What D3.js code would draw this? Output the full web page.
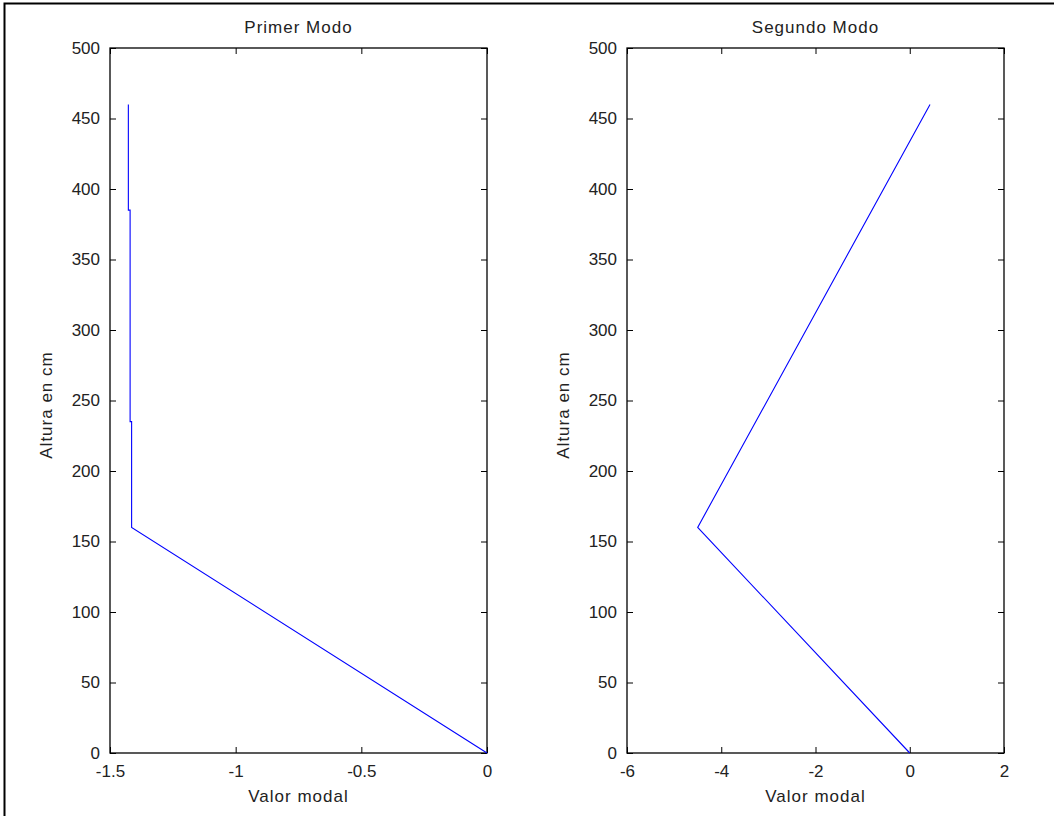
<!DOCTYPE html>
<html>
<head>
<meta charset="utf-8">
<script src="https://cdn.jsdelivr.net/npm/d3@7"></script>
<style>
  body { margin: 0; background: #fff; }
  svg text { font-family: "Liberation Sans", Arial, sans-serif; fill: #222; }
</style>
</head>
<body>
<div id="chart"></div>
<script>
// Alturas de los nodos (cm)
const alturas1 = [0, 160, 235, 235, 385, 385, 460];
// Primer modo
const modo1 = [0, -1.414, -1.414, -1.420, -1.420, -1.427, -1.427];
// Segundo modo
const alturas2 = [0, 160, 460];
const modo2 = [0, -4.50, 0.43];

const yTicks = [0, 50, 100, 150, 200, 250, 300, 350, 400, 450, 500];
const xTicks1 = [-1.5, -1, -0.5, 0];
const xTicks2 = [-6, -4, -2, 0, 2];

const width = 1054, height = 816;
const plotTop = 48, plotBottom = 753;
const tickLen = 6;

const svg = d3.select("#chart").append("svg")
  .attr("width", width)
  .attr("height", height);

// outer frame
svg.append("rect")
  .attr("x", 4.5).attr("y", 3.5)
  .attr("width", width + 10).attr("height", height + 10)
  .attr("fill", "none").attr("stroke", "#000").attr("stroke-width", 2);

const yScale = d3.scaleLinear().domain([0, 500]).range([plotBottom, plotTop]);
const fmt = d => String(d);  // guion normal, no signo menos unicode

function panel(left, right, xDomain, xTicks, xs, ys, title) {
  const xScale = d3.scaleLinear().domain(xDomain).range([left, right]);
  const g = svg.append("g");

  // ejes con marcas hacia dentro en los cuatro lados
  const xb = g.append("g")
    .attr("transform", `translate(0,${plotBottom})`)
    .call(d3.axisBottom(xScale).tickValues(xTicks).tickSize(-tickLen).tickFormat(fmt))
    .call(a => a.select(".domain").remove());
  xb.selectAll(".tick text").attr("y", 24).attr("dy", null);

  g.append("g")
    .attr("transform", `translate(0,${plotTop})`)
    .call(d3.axisTop(xScale).tickValues(xTicks).tickSize(-tickLen).tickFormat(""))
    .call(a => a.select(".domain").remove());
  g.append("g")
    .attr("transform", `translate(${left},0)`)
    .call(d3.axisLeft(yScale).tickValues(yTicks).tickSize(-tickLen).tickPadding(10).tickFormat(fmt))
    .call(a => a.select(".domain").remove());
  g.append("g")
    .attr("transform", `translate(${right},0)`)
    .call(d3.axisRight(yScale).tickValues(yTicks).tickSize(-tickLen).tickFormat(""))
    .call(a => a.select(".domain").remove());

  g.selectAll(".tick line").attr("stroke", "#000");
  g.selectAll(".tick text").attr("font-size", "17px").attr("fill", "#222")
    .attr("font-family", "Liberation Sans, Arial, sans-serif");

  g.append("rect")
    .attr("x", left).attr("y", plotTop)
    .attr("width", right - left).attr("height", plotBottom - plotTop)
    .attr("fill", "none").attr("stroke", "#000").attr("stroke-width", 1.3);

  const data = xs.map((v, i) => ({ x: v, y: ys[i] }));
  g.append("path")
    .datum(data)
    .attr("fill", "none")
    .attr("stroke", "#0000ff")
    .attr("stroke-width", 1.1)
    .attr("d", d3.line().x(d => xScale(d.x)).y(d => yScale(d.y)));

  g.append("text")
    .attr("x", (left + right) / 2).attr("y", 33)
    .attr("text-anchor", "middle").attr("font-size", "17px")
    .attr("letter-spacing", "1px")
    .text(title);
  g.append("text")
    .attr("x", (left + right) / 2).attr("y", 802)
    .attr("text-anchor", "middle").attr("font-size", "17px")
    .attr("letter-spacing", "1px")
    .text("Valor modal");
  g.append("text")
    .attr("transform", `translate(${left - 58},405) rotate(-90)`)
    .attr("text-anchor", "middle").attr("font-size", "17px")
    .attr("letter-spacing", "1px")
    .text("Altura en cm");
}

panel(110, 487, [-1.5, 0], xTicks1, modo1, alturas1, "Primer Modo");
panel(627, 1004, [-6, 2], xTicks2, modo2, alturas2, "Segundo Modo");
</script>
</body>
</html>
